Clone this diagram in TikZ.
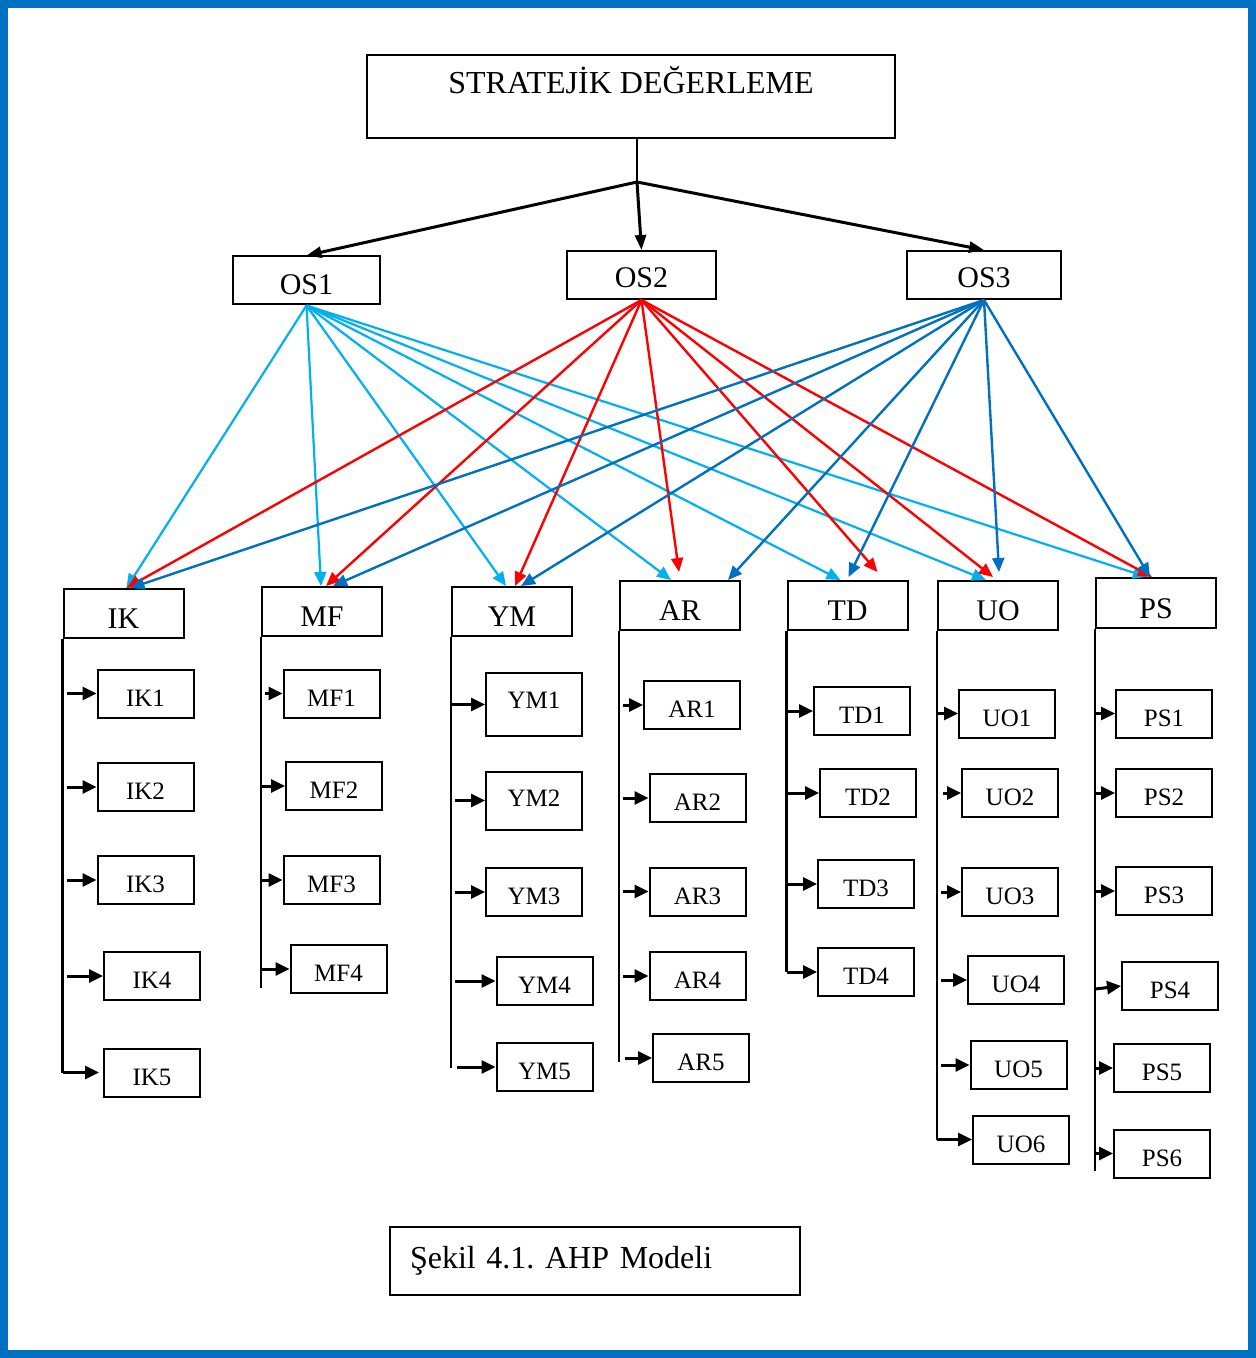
\documentclass[tikz,border=0pt]{standalone}
\usepackage{fontspec}
\setmainfont{Liberation Serif}
\usetikzlibrary{arrows.meta}
\definecolor{frameblue}{RGB}{0,112,192}
\definecolor{osone}{RGB}{0,176,240}
\definecolor{ostwo}{RGB}{255,0,0}
\definecolor{osthree}{RGB}{0,112,192}

\begin{document}
\begin{tikzpicture}[x=0.5pt,y=-0.5pt,>={Triangle[length=7pt,width=6pt]},
  box/.style={draw,line width=1pt,inner sep=0pt},
  goal node/.style={box,minimum width=264pt,minimum height=41.5pt,text height=0pt,text depth=2.5pt,
    font=\fontsize{16}{19}\selectfont},
  os node/.style={box,minimum height=24pt,text height=14pt,text depth=0pt,font=\fontsize{15}{18}\selectfont},
  crit node/.style={box,minimum width=60pt,minimum height=24.5pt,text height=15pt,text depth=0pt,
    font=\fontsize{15}{18}\selectfont},
  sub node/.style={box,minimum width=48pt,minimum height=24pt,text height=12.5pt,text depth=0pt,
    font=\fontsize{12.5}{15}\selectfont},
  top arrow/.style={->,line width=1.5pt,>={Triangle[length=7.5pt,width=5.5pt]}},
  one/.style={->,line width=1.1pt,color=osone},
  two/.style={->,line width=1.2pt,color=ostwo},
  three/.style={->,line width=1.2pt,color=osthree},
  branch/.style={line width=1.2pt},
  stub/.style={->,line width=1.5pt,>={Triangle[length=7pt,width=6.5pt]}}]

  \useasboundingbox (0,0) rectangle (1256,1358);
  \draw[line width=4pt,frameblue] (4,4) rectangle (1252,1354);

  % goal and main criteria
  \node[goal node] (goal) at (631,96.5) {STRATEJİK DEĞERLEME};
  \coordinate (jn) at (637,182);
  \node[os node,minimum width=73.5pt] (os1) at (306.5,280.5) {OS1};
  \node[os node,minimum width=74.5pt,text height=13pt] (os2) at (641.5,275) {OS2};
  \node[os node,minimum width=77pt,text height=13pt] (os3) at (984,275) {OS3};

  \draw[line width=1.2pt] (goal.south -| jn) -- (jn);
  \draw[top arrow] (jn) -- (os1.north);
  \draw[top arrow] (jn) -- (os2.north);
  \draw[top arrow] (jn) -- (os3.north);

  % sub criteria
  \node[crit node] (ik) at (123.5,613.5) {IK};
  \node[crit node] (mf) at (322,611.5) {MF};
  \node[crit node] (ym) at (512,611.5) {YM};
  \node[crit node] (ar) at (680,605.5) {AR};
  \node[crit node] (td) at (847.5,605.5) {TD};
  \node[crit node] (uo) at (998,605.5) {UO};
  \node[crit node,minimum height=25pt] (ps) at (1156,603) {PS};

  % OS1 links
  \draw[one] (os1.south) -- ([shift={(3,0)}]ik.north);
  \draw[one] (os1.south) -- ([shift={(-1,0)}]mf.north);
  \draw[one] (os1.south) -- ([shift={(-6,0)}]ym.north);
  \draw[one] (os1.south) -- ([shift={(-9,0)}]ar.north);
  \draw[one] (os1.south) -- ([shift={(-7,0)}]td.north);
  \draw[one] (os1.south) -- ([shift={(-12,0)}]uo.north);
  \draw[one] (os1.south) -- ([shift={(-9,0)}]ps.north);
  % OS2 links
  \draw[two] (os2.south) -- ([shift={(3,0)}]ik.north);
  \draw[two] (os2.south) -- ([shift={(4,0)}]mf.north);
  \draw[two] (os2.south) -- ([shift={(3,0)}]ym.north);
  \draw[two] (os2.south) -- ([shift={(-1,-8)}]ar.north);
  \draw[two] (os2.south) -- ([shift={(30,-8)}]td.north);
  \draw[two] (os2.south) -- ([shift={(-5,-3)}]uo.north);
  \draw[two] (os2.south) -- ([shift={(-4,0)}]ps.north);
  % OS3 links
  \draw[three] (os3.south) -- ([shift={(7,0)}]ik.north);
  \draw[three] (os3.south) -- ([shift={(11,0)}]mf.north);
  \draw[three] (os3.south) -- ([shift={(9,0)}]ym.north);
  \draw[three] (os3.south) -- ([shift={(48,0)}]ar.north);
  \draw[three] (os3.south) -- ([shift={(1,-3)}]td.north);
  \draw[three] (os3.south) -- ([shift={(1,-8)}]uo.north);
  \draw[three] (os3.south) -- ([shift={(-6,0)}]ps.north);

  % IK
  \node[sub node] (ik1) at (145.5,693.5) {IK1};
  \node[sub node] (ik2) at (145.5,787) {IK2};
  \node[sub node] (ik3) at (145.5,880) {IK3};
  \node[sub node] (ik4) at (152,976) {IK4};
  \node[sub node] (ik5) at (152,1072.5) {IK5};
  % MF
  \node[sub node] (mf1) at (331.5,693.5) {MF1};
  \node[sub node] (mf2) at (334,786) {MF2};
  \node[sub node] (mf3) at (331.5,880) {MF3};
  \node[sub node] (mf4) at (338.5,969) {MF4};
  % YM
  \node[sub node,minimum height=31.5pt,text height=3.5pt] (ym1) at (534,704.5) {YM1};
  \node[sub node,minimum height=29pt,text height=6pt] (ym2) at (534,800.5) {YM2};
  \node[sub node] (ym3) at (534,892) {YM3};
  \node[sub node] (ym4) at (544.5,981) {YM4};
  \node[sub node] (ym5) at (544.5,1067) {YM5};
  % AR
  \node[sub node] (ar1) at (692,705) {AR1};
  \node[sub node] (ar2) at (697.5,798) {AR2};
  \node[sub node] (ar3) at (697.5,891.5) {AR3};
  \node[sub node] (ar4) at (697.5,976) {AR4};
  \node[sub node] (ar5) at (701,1058) {AR5};
  % TD
  \node[sub node] (td1) at (862,711) {TD1};
  \node[sub node] (td2) at (868,793) {TD2};
  \node[sub node] (td3) at (866,884) {TD3};
  \node[sub node] (td4) at (866,972) {TD4};
  % UO
  \node[sub node] (uo1) at (1007,713.5) {UO1};
  \node[sub node] (uo2) at (1010,793) {UO2};
  \node[sub node] (uo3) at (1010,892) {UO3};
  \node[sub node] (uo4) at (1016,980) {UO4};
  \node[sub node] (uo5) at (1018.5,1065) {UO5};
  \node[sub node] (uo6) at (1021,1139.5) {UO6};
  % PS
  \node[sub node] (ps1) at (1164,713.5) {PS1};
  \node[sub node] (ps2) at (1164,793) {PS2};
  \node[sub node] (ps3) at (1164,891) {PS3};
  \node[sub node] (ps4) at (1170,986) {PS4};
  \node[sub node] (ps5) at (1162,1068) {PS5};
  \node[sub node] (ps6) at (1162,1153.5) {PS6};

  % branch lines
  \draw[branch] (ik.south west) -- (ik.west |- ik5.west);
  \draw[branch] (mf.south west) -- ([shift={(0,19)}]mf.west |- mf4.west);
  \draw[branch] (ym.south west) -- ([shift={(0,1)}]ym.west |- ym5.west);
  \draw[branch] (ar.south west) -- ([shift={(0,4)}]ar.west |- ar5.west);
  \draw[branch] (td.south west) -- (td.west |- td4.west);
  \draw[branch] (uo.south west) -- (uo.west |- uo6.west);
  \draw[branch] (ps.south west) -- ([shift={(0,17)}]ps.west |- ps6.west);

  \draw[stub] ([shift={(4,0)}]ik.west |- ik1.west) -- (ik1.west);
  \draw[stub] ([shift={(4,0)}]ik.west |- ik2.west) -- (ik2.west);
  \draw[stub] ([shift={(4,0)}]ik.west |- ik3.west) -- (ik3.west);
  \draw[stub] ([shift={(4,0)}]ik.west |- ik4.west) -- (ik4.west);
  \draw[stub] (ik.west |- ik5.west) -- ([shift={(-4,0)}]ik5.west);

  \draw[stub] ([shift={(4,0)}]mf.west |- mf1.west) -- (mf1.west);
  \draw[stub] (mf.west |- mf2.west) -- (mf2.west);
  \draw[stub] (mf.west |- mf3.west) -- (mf3.west);
  \draw[stub] (mf.west |- mf4.west) -- (mf4.west);

  \draw[stub] (ym.west |- ym1.west) -- (ym1.west);
  \draw[stub] ([shift={(4,0)}]ym.west |- ym2.west) -- (ym2.west);
  \draw[stub] ([shift={(4,0)}]ym.west |- ym3.west) -- (ym3.west);
  \draw[stub] ([shift={(4,0)}]ym.west |- ym4.west) -- (ym4.west);
  \draw[stub] ([shift={(6,0)}]ym.west |- ym5.west) -- (ym5.west);

  \draw[stub] ([shift={(4,0)}]ar.west |- ar1.west) -- (ar1.west);
  \draw[stub] ([shift={(4,0)}]ar.west |- ar2.west) -- (ar2.west);
  \draw[stub] ([shift={(4,0)}]ar.west |- ar3.west) -- (ar3.west);
  \draw[stub] ([shift={(4,0)}]ar.west |- ar4.west) -- (ar4.west);
  \draw[stub] ([shift={(6,0)}]ar.west |- ar5.west) -- (ar5.west);

  \draw[stub] (td.west |- td1.west) -- (td1.west);
  \draw[stub] (td.west |- td2.west) -- (td2.west);
  \draw[stub] (td.west |- td3.west) -- (td3.west);
  \draw[stub] (td.west |- td4.west) -- (td4.west);

  \draw[stub] (uo.west |- uo1.west) -- (uo1.west);
  \draw[stub] ([shift={(6,0)}]uo.west |- uo2.west) -- (uo2.west);
  \draw[stub] ([shift={(4,0)}]uo.west |- uo3.west) -- (uo3.west);
  \draw[stub] ([shift={(4,0)}]uo.west |- uo4.west) -- (uo4.west);
  \draw[stub] ([shift={(4,0)}]uo.west |- uo5.west) -- (uo5.west);
  \draw[stub] (uo.west |- uo6.west) -- (uo6.west);

  \draw[stub] (ps.west |- ps1.west) -- (ps1.west);
  \draw[stub] (ps.west |- ps2.west) -- (ps2.west);
  \draw[stub] (ps.west |- ps3.west) -- (ps3.west);
  \draw[stub] ([shift={(0,3)}]ps.west |- ps4.west) -- (ps4.west);
  \draw[stub] (ps.west |- ps5.west) -- (ps5.west);
  \draw[stub] (ps.west |- ps6.west) -- (ps6.west);

  % caption
  \node[box,minimum width=205pt,minimum height=34pt,text width=185pt,align=left,
    text height=7pt,text depth=0pt,font=\fontsize{16}{19}\selectfont\frenchspacing]
    (cap) at (595,1261) {Şekil 4.1. AHP Modeli};
\end{tikzpicture}
\end{document}
